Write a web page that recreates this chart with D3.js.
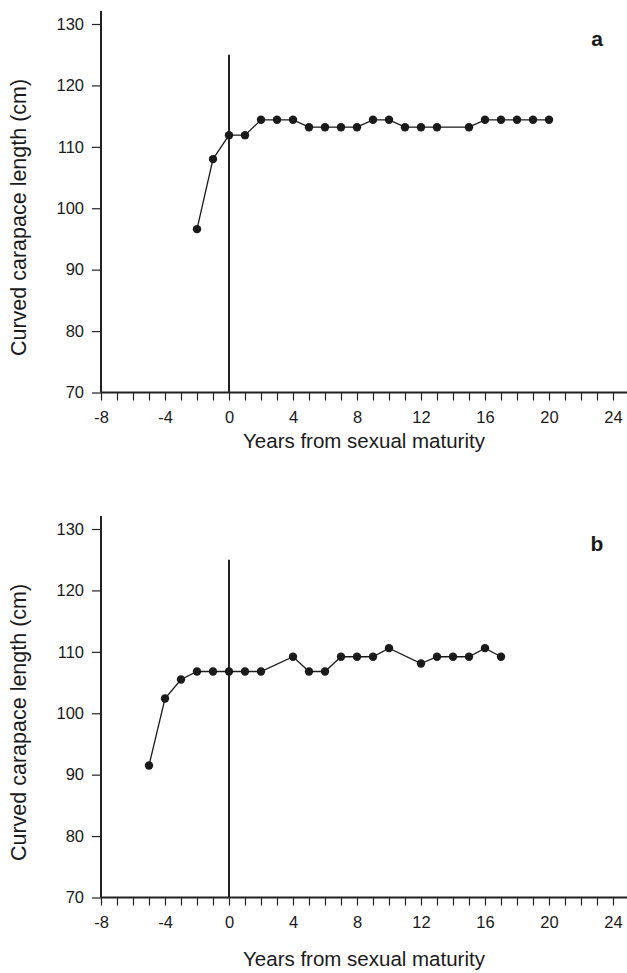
<!DOCTYPE html>
<html>
<head>
<meta charset="utf-8">
<script src="https://cdn.jsdelivr.net/npm/d3@7"></script>
<style>
  body { margin: 0; background: #fff; }
  svg text { font-family: "Liberation Sans", Arial, sans-serif; fill: #1a1a1a; }
</style>
</head>
<body>
<svg></svg>
<script>
const width = 627;
const height = 973;

// panel a
const yearsA = [-2, -1, 0, 1, 2, 3, 4, 5, 6, 7, 8, 9, 10, 11, 12, 13, 15, 16, 17, 18, 19, 20];
const cclA = [96.6, 108, 111.9, 111.9, 114.4, 114.4, 114.4, 113.2, 113.2, 113.2, 113.2, 114.4, 114.4, 113.2, 113.2, 113.2, 113.2, 114.4, 114.4, 114.4, 114.4, 114.4];
// panel b
const yearsB = [-5, -4, -3, -2, -1, 0, 1, 2, 4, 5, 6, 7, 8, 9, 10, 12, 13, 14, 15, 16, 17];
const cclB = [91.5, 102.4, 105.5, 106.8, 106.8, 106.8, 106.8, 106.8, 109.2, 106.8, 106.8, 109.2, 109.2, 109.2, 110.6, 108.1, 109.2, 109.2, 109.2, 110.6, 109.2];

const xTicks = d3.range(-8, 25);
const yTicks = [70, 80, 90, 100, 110, 120, 130];
const xLabel = "Years from sexual maturity";
const yLabel = "Curved carapace length (cm)";

let svg = d3.select("svg").attr("width", width).attr("height", height);

const x = d3.scaleLinear().domain([-8, 24]).range([101, 613]);
const y = d3.scaleLinear().domain([70, 130]).range([368.5, 0]);

function panel(top, years, vals, letter, titleGap) {
  let g = svg.append("g").attr("transform", `translate(0,${top})`);
  const pts = years.map((yr, i) => ({yr: yr, v: vals[i]}));

  // y axis
  let yAxis = g.append("g").attr("transform", `translate(${x(-8)},0)`)
    .call(d3.axisLeft(y).tickValues(yTicks).tickSize(9).tickPadding(8));
  yAxis.select(".domain").remove();
  yAxis.selectAll(".tick line").attr("stroke", "#222").attr("stroke-width", 1.2);
  yAxis.selectAll(".tick text").attr("font-size", 16.5);
  g.append("line")
    .attr("x1", x(-8)).attr("x2", x(-8))
    .attr("y1", y(132.1)).attr("y2", y(70))
    .attr("stroke", "#222").attr("stroke-width", 2);

  // x axis
  let xAxis = g.append("g").attr("transform", `translate(0,${y(70)})`)
    .call(d3.axisBottom(x).tickValues(xTicks).tickSize(8).tickPadding(11)
      .tickFormat(d => d % 4 === 0 ? d : ""));
  xAxis.select(".domain").remove();
  xAxis.selectAll(".tick line").attr("stroke", "#222").attr("stroke-width", 1.2);
  xAxis.selectAll(".tick text").attr("font-size", 16.5);
  g.append("line")
    .attr("x1", x(-8)).attr("x2", width)
    .attr("y1", y(70)).attr("y2", y(70))
    .attr("stroke", "#222").attr("stroke-width", 2.2);

  // vertical line at maturity
  g.append("line")
    .attr("x1", x(0)).attr("x2", x(0))
    .attr("y1", y(125)).attr("y2", y(70))
    .attr("stroke", "#222").attr("stroke-width", 2);

  // data
  g.append("path").datum(pts)
    .attr("fill", "none").attr("stroke", "#1a1a1a").attr("stroke-width", 1.3)
    .attr("d", d3.line().x(d => x(d.yr)).y(d => y(d.v)));
  g.selectAll("circle").data(pts).enter().append("circle")
    .attr("cx", d => x(d.yr)).attr("cy", d => y(d.v)).attr("r", 4.2)
    .attr("fill", "#1a1a1a");

  // labels
  g.append("text")
    .attr("x", (x(-8) + width) / 2 + 0).attr("y", y(70) + titleGap)
    .attr("text-anchor", "middle").attr("font-size", 20.5)
    .text(xLabel);
  g.append("text")
    .attr("transform", `translate(26,${y(98.5)}) rotate(-90)`)
    .attr("text-anchor", "middle").attr("font-size", 21.5)
    .text(yLabel);
  g.append("text")
    .attr("x", 597).attr("y", 22)
    .attr("text-anchor", "middle").attr("font-size", 21).attr("font-weight", "bold")
    .text(letter);
}

panel(24, yearsA, cclA, "a", 55);
panel(529, yearsB, cclB, "b", 68);
</script>
</body>
</html>
